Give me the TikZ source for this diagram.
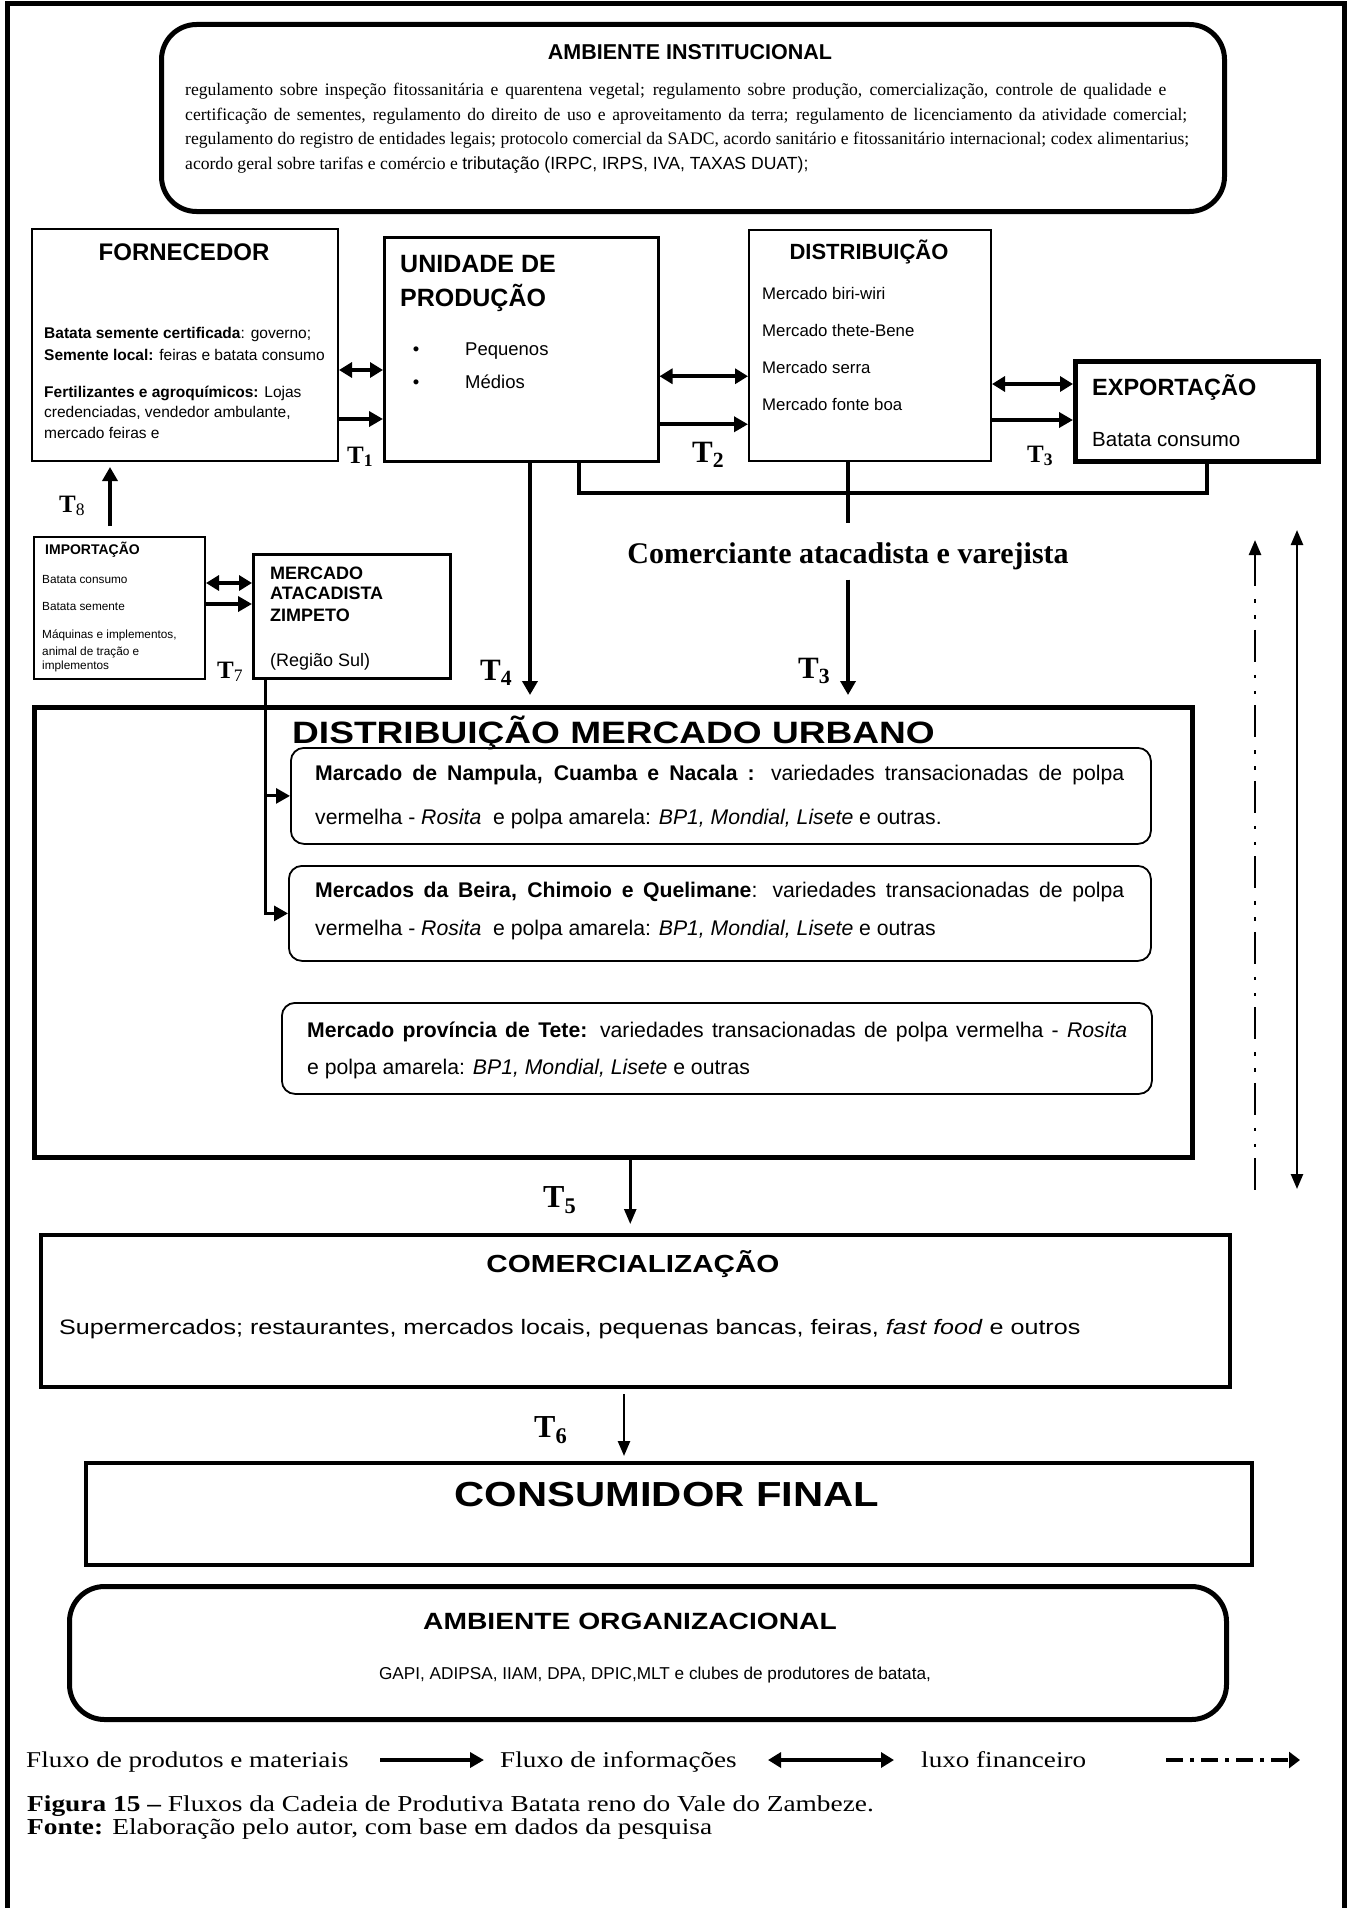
\documentclass[tikz,border=0pt]{standalone}
\usepackage{fontspec}
\usepackage{graphicx}
\setmainfont{Liberation Serif}
\setsansfont{Liberation Sans}
\newfontfamily\widesans[FakeStretch = 1.2]{Liberation Sans}
\newfontfamily\wideserif[FakeStretch = 1.2]{Liberation Serif}
\newcommand{\fsize}[1]{\fontsize{#1pt}{#1pt}\selectfont}
\usetikzlibrary{arrows.meta}
\begin{document}
\begin{tikzpicture}[x = 1pt, y = -1pt,
        box/.style = {draw, line width = 2pt, inner sep = 0pt, anchor = north west},
        roundbox/.style = {box, line width = 5pt, rounded corners = 35pt},
        marketbox/.style = {box, line width = 1.8pt, rounded corners = 13pt},
        txt/.style = {anchor = base west, inner sep = 0pt},
        ctxt/.style = {anchor = base, inner sep = 0pt},
        tsmall/.style = {txt, font = \fsize{25}\bfseries},
        tlarge/.style = {txt, font = \fsize{31}\bfseries},
        heavy/.style = {line width = 4.5pt},
        linkline/.style = {line width = 3.5pt},
        heavyarr/.style = {line width = 4pt, arrows = {-Triangle[length = 14pt, width = 15pt]}},
        heavybi/.style = {line width = 4pt, arrows = {Triangle[length = 13pt, width = 15pt]-Triangle[length = 13pt, width = 15pt]}},
        thinarr/.style = {line width = 2.5pt, arrows = {-Triangle[length = 15pt, width = 12pt]}},
        thinbi/.style = {line width = 2.5pt, arrows = {Triangle[length = 15pt, width = 12pt]-Triangle[length = 15pt, width = 12pt]}}]
        \useasboundingbox (0,0) rectangle (1352,1908);
        \draw[line width = 5.5pt] (7.5,1908) -- (7.5,3.5) -- (1344.5,3.5) -- (1344.5,1908);
        \node[roundbox, minimum width = 1063pt, minimum height = 187pt] (inst) at (159,22) {};
        \node[ctxt, font = \fsize{21.5}\sffamily\bfseries] (instTitle) at (690,60) {AMBIENTE INSTITUCIONAL};
        \begin{scope}[every node/.append style = {txt, font = \fsize{17.6}}]
            \node (inst-1) at (185,96) {\makebox[981pt][s]{regulamento sobre inspeção fitossanitária e quarentena vegetal; regulamento sobre produção, comercialização, controle de qualidade e}};
            \node (inst-2) at (185,121) {\makebox[1002pt][s]{certificação de sementes, regulamento do direito de uso e aproveitamento da terra; regulamento de licenciamento da atividade comercial;}};
            \node (inst-3) at (185,145) {\makebox[1004pt][s]{regulamento do registro de entidades legais; protocolo comercial da SADC, acordo sanitário e fitossanitário internacional; codex alimentarius;}};
            \node (inst-4) at (185,169) {acordo geral sobre tarifas e comércio e {\sffamily tributação (IRPC, IRPS, IVA, TAXAS DUAT);}};
        \end{scope}
        \node[box, minimum width = 306pt, minimum height = 232pt] (fornec) at (31,228) {};
        \node[ctxt, font = \fsize{24}\sffamily\bfseries] (fornecTitle) at (184,260) {FORNECEDOR};
        \begin{scope}[every node/.append style = {txt, font = \fsize{15.5}\sffamily}]
            \node (fornec-1) at (44,338.5) {\textbf{Batata semente certificada}: governo;};
            \node (fornec-2) at (44,360.5) {\textbf{Semente local:} feiras e batata consumo};
            \node (fornec-3) at (44,397) {\textbf{Fertilizantes e agroquímicos:} Lojas};
            \node (fornec-4) at (44,417) {credenciadas, vendedor ambulante,};
            \node (fornec-5) at (44,438) {mercado feiras e};
        \end{scope}
        \node[box, line width = 2.5pt, minimum width = 274pt, minimum height = 224pt] (unidade) at (383,236) {};
        \begin{scope}[every node/.append style = {txt, font = \fsize{25}\sffamily\bfseries}]
            \node (unidade-1) at (400,272) {UNIDADE DE};
            \node (unidade-2) at (400,306) {PRODUÇÃO};
        \end{scope}
        \begin{scope}[every node/.append style = {font = \fsize{18.5}\sffamily}]
            \foreach \word [count = \i] in {Pequenos, Médios} {
                \node[ctxt] (bullet-\i) at (416,322 + 33*\i) {\textbullet};
                \node[txt] (size-\i) at (465,322 + 33*\i) {\word};
            }
        \end{scope}
        \node[box, minimum width = 242pt, minimum height = 231pt] (distrib) at (748,229) {};
        \node[ctxt, font = \fsize{22}\sffamily\bfseries] (distribTitle) at (869,259) {DISTRIBUIÇÃO};
        \begin{scope}[every node/.append style = {txt, font = \fsize{16.8}\sffamily}]
            \foreach \place [count = \i] in {biri-wiri, thete-Bene, serra, fonte boa}
                \node (dist-\i) at (762,262 + 37*\i) {Mercado \place};
        \end{scope}
        \node[box, line width = 4.5pt, minimum width = 243pt, minimum height = 100pt] (export) at (1073,359) {};
        \node[txt, font = \fsize{23.5}\sffamily\bfseries] (exportTitle) at (1092,395.5) {EXPORTAÇÃO};
        \node[txt, font = \fsize{20.5}\sffamily] (exportItem) at (1092,446) {Batata consumo};
        \draw[heavybi] ([yshift = -25pt]fornec.east) -- ([yshift = -25pt]fornec.east -| unidade.west);
        \draw[heavyarr] ([yshift = -74pt]fornec.east) -- ([yshift = -74pt]fornec.east -| unidade.west);
        \draw[heavybi] ([yshift = -27pt]unidade.east) -- ([yshift = -27pt]unidade.east -| distrib.west);
        \draw[heavyarr] ([yshift = -75pt]unidade.east) -- ([yshift = -75pt]unidade.east -| distrib.west);
        \draw[heavybi] ([yshift = -38.5pt]distrib.east) -- ([yshift = -38.5pt]distrib.east -| export.west);
        \draw[heavyarr] ([yshift = -74.5pt]distrib.east) -- ([yshift = -74.5pt]distrib.east -| export.west);
        \node[tsmall] (t1) at (347,463) {T\textsubscript{1}};
        \node[tlarge] (t2) at (692,462) {T\textsubscript{2}};
        \node[tsmall] (t3) at (1027,462) {T\textsubscript{3}};
        \coordinate (busL) at (579,493);
        \coordinate (busR) at (1207,493);
        \coordinate (busM) at (848,523);
        \draw[linkline] (unidade.south -| busL) -- (busL) -- (busR) -- (export.south -| busR);
        \draw[heavy] (distrib.south -| busM) -- (busM);
        \node[ctxt, font = \fsize{30}\bfseries] (comerc) at (848,563) {Comerciante atacadista e varejista};
        \node[box, minimum width = 171pt, minimum height = 142pt] (import) at (33,536) {};
        \node[txt, font = \fsize{14}\sffamily\bfseries] (importTitle) at (45,554) {IMPORTAÇÃO};
        \begin{scope}[every node/.append style = {txt, font = \fsize{11.8}\sffamily}]
            \node (import-1) at (42,583) {Batata consumo};
            \node (import-2) at (42,610) {Batata semente};
            \node (import-3) at (42,638) {Máquinas e implementos,};
            \node (import-4) at (42,655) {animal de tração e};
            \node (import-5) at (42,669) {implementos};
        \end{scope}
        \node[box, line width = 3pt, minimum width = 197pt, minimum height = 124pt] (zimpeto) at (252,553) {};
        \begin{scope}[every node/.append style = {txt, font = \fsize{18}\sffamily\bfseries}]
            \node (zimpeto-1) at (270,579.5) {MERCADO};
            \node (zimpeto-2) at (270,599.5) {ATACADISTA};
            \node (zimpeto-3) at (270,621.5) {ZIMPETO};
        \end{scope}
        \node[txt, font = \fsize{18}\sffamily] (zimpetoRegion) at (270,666) {(Região Sul)};
        \draw[heavybi] ([yshift = 25pt]import.east) -- ([yshift = 25pt]import.east -| zimpeto.west);
        \draw[heavyarr] ([yshift = 4pt]import.east) -- ([yshift = 4pt]import.east -| zimpeto.west);
        \draw[heavyarr, shorten <= 10pt, shorten >= 5pt] ([xshift = -9.5pt]import.north) -- ([xshift = -9.5pt]import.north |- fornec.south);
        \node[tsmall] (t8) at (59,512) {T\textsubscript{\mdseries 8}};
        \node[tsmall] (t7) at (217,678) {T\textsubscript{\mdseries 7}};
        \node[box, line width = 4.5pt, minimum width = 1158pt, minimum height = 450pt] (urbano) at (32,705) {};
        \node[txt, font = \fsize{30.9}\widesans\bfseries] (urbanoTitle) at (292,743) {DISTRIBUIÇÃO MERCADO URBANO};
        \draw[heavyarr, line width = 4.5pt, shorten >= 10pt] ([xshift = 147pt]unidade.south west) -- ([xshift = 147pt]unidade.south west |- urbano.north);
        \draw[heavyarr, line width = 4.5pt, shorten <= 10pt, shorten >= 10pt] (comerc.south) -- (comerc.south |- urbano.north);
        \node[tlarge] (t4) at (480,680) {T\textsubscript{4}};
        \node[tlarge] (t3b) at (798,678) {T\textsubscript{3}};
        \node[marketbox, minimum width = 860pt, minimum height = 96pt] (urbA) at (290,747) {};
        \node[marketbox, minimum width = 862pt, minimum height = 95pt] (urbB) at (288,865) {};
        \node[marketbox, minimum width = 870pt, minimum height = 91pt] (urbC) at (281,1002) {};
        \begin{scope}[every node/.append style = {txt, font = \fsize{21.2}\sffamily}]
            \node (urbA-1) at (315,780) {\makebox[809pt][s]{\textbf{Marcado de Nampula, Cuamba e Nacala :} variedades transacionadas de polpa}};
            \node (urbA-2) at (315,824) {vermelha - \textit{Rosita}\ \ e polpa amarela: \textit{BP1, Mondial, Lisete} e outras.};
            \node (urbB-1) at (315,897) {\makebox[809pt][s]{\textbf{Mercados da Beira, Chimoio e Quelimane}: variedades transacionadas de polpa}};
            \node (urbB-2) at (315,935) {vermelha - \textit{Rosita}\ \ e polpa amarela: \textit{BP1, Mondial, Lisete} e outras};
            \node (urbC-1) at (307,1037) {\makebox[820pt][s]{\textbf{Mercado província de Tete:} variedades transacionadas de polpa vermelha - \textit{Rosita}}};
            \node (urbC-2) at (307,1074) {e polpa amarela: \textit{BP1, Mondial, Lisete} e outras};
        \end{scope}
        \draw[line width = 3pt, arrows = {-Triangle[length = 14pt, width = 15pt]}] ([xshift = 13pt]zimpeto.south west) |- (urbA.west);
        \draw[line width = 3pt, arrows = {-Triangle[length = 14pt, width = 15pt]}] ([xshift = 13pt]zimpeto.south west) |- (urbB.west);
        \coordinate (infoTop) at (1297,530);
        \coordinate (infoBot) at (1297,1189);
        \coordinate (finTop) at (1255,540);
        \coordinate (finBot) at (1255,1190);
        \draw[thinbi] (infoTop) -- (infoBot);
        \draw[line width = 2.5pt, dash pattern = on 32pt off 13pt on 3.5pt off 12.5pt on 3.5pt off 11pt, arrows = {Triangle[length = 15pt, width = 12pt]-}] (finTop) -- (finBot);
        \node[box, line width = 4pt, minimum width = 1189pt, minimum height = 152pt] (comercio) at (39,1233) {};
        \node[ctxt, font = \fsize{24.7}\widesans\bfseries] (comercioTitle) at (633,1272) {COMERCIALIZAÇÃO};
        \node[txt, font = \fsize{20.9}\widesans] (comercioItem) at (59,1334.5) {Supermercados; restaurantes, mercados locais, pequenas bancas, feiras, \textit{fast food} e outros};
        \draw[thinarr, shorten >= 9pt] ([xshift = 17pt]urbano.south) -- ([xshift = 17pt]urbano.south |- comercio.north);
        \node[tlarge, font = \fsize{32}\bfseries] (t5) at (543,1207) {T\textsubscript{5}};
        \node[box, line width = 4pt, minimum width = 1166pt, minimum height = 102pt] (consumidor) at (84,1461) {};
        \node[ctxt, font = \fsize{34.8}\widesans\bfseries] (consumidorTitle) at (667,1506) {CONSUMIDOR FINAL};
        \draw[thinarr, shorten <= 5pt, shorten >= 5pt] ([xshift = -11.5pt]comercio.south) -- ([xshift = -11.5pt]comercio.south |- consumidor.north);
        \node[tlarge, font = \fsize{32}\bfseries] (t6) at (534,1437) {T\textsubscript{6}};
        \node[roundbox, minimum width = 1157pt, minimum height = 133pt] (org) at (67,1584) {};
        \node[ctxt, font = \fsize{23.5}\widesans\bfseries] (orgTitle) at (630,1629.5) {AMBIENTE ORGANIZACIONAL};
        \node[ctxt, font = \fsize{17.2}\sffamily] (orgItem) at (655,1679) {GAPI, ADIPSA, IIAM, DPA, DPIC,MLT e clubes de produtores de batata,};
        \begin{scope}[every node/.append style = {txt, font = \fsize{22.6}\wideserif}]
            \node (keyProd) at (26,1767.5) {Fluxo de produtos e materiais};
            \node (keyInfo) at (500,1767.5) {Fluxo de informações};
            \node (keyFin) at (921,1767.5) {luxo financeiro};
        \end{scope}
        \coordinate (keyProdA) at (380,1760);
        \coordinate (keyProdB) at (484,1760);
        \coordinate (keyInfoA) at (768,1760);
        \coordinate (keyInfoB) at (894,1760);
        \coordinate (keyFinA) at (1166,1760);
        \coordinate (keyFinB) at (1300,1760);
        \draw[heavyarr] (keyProdA) -- (keyProdB);
        \draw[heavybi] (keyInfoA) -- (keyInfoB);
        \draw[line width = 4.5pt, dash pattern = on 17pt off 7pt on 4pt off 7pt, arrows = {-Triangle[length = 11pt, width = 16pt]}] (keyFinA) -- (keyFinB);
        \begin{scope}[every node/.append style = {txt, font = \fsize{22.8}\wideserif}]
            \node (caption) at (27,1811) {\textbf{Figura 15 –} Fluxos da Cadeia de Produtiva Batata reno do Vale do Zambeze.};
            \node (source) at (27,1834) {\textbf{Fonte:} Elaboração pelo autor, com base em dados da pesquisa};
        \end{scope}
    \end{tikzpicture}
\end{document}
